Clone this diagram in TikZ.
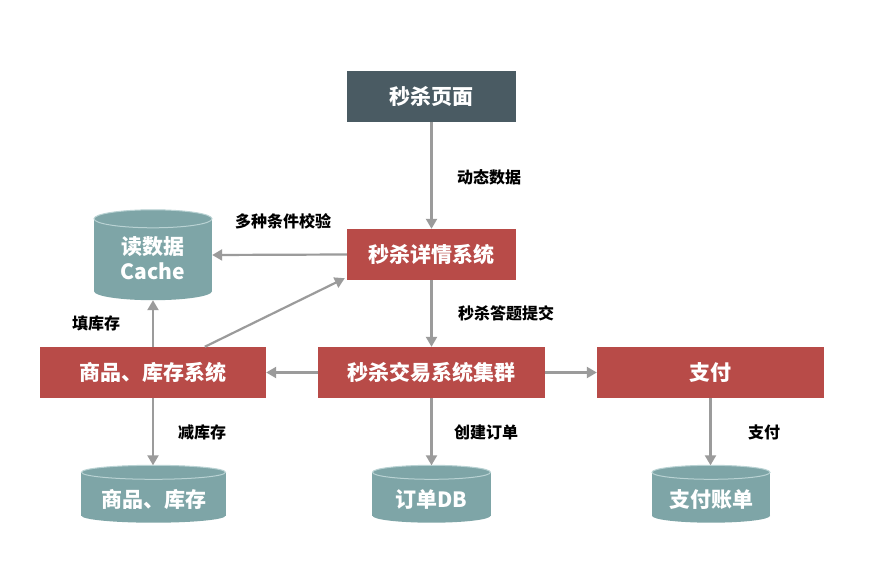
\documentclass[tikz,border=0pt]{standalone}
\usepackage{fontspec}
\newfontfamily\cjk{Noto Sans CJK SC}
\usetikzlibrary{arrows.meta,calc,backgrounds}
\definecolor{boxred}{HTML}{B84B48}
\definecolor{boxdark}{HTML}{4A5B63}
\definecolor{cylfill}{HTML}{7EA5A7}
\definecolor{cylrim}{HTML}{B9D2D3}
\definecolor{arrgray}{HTML}{9B9B9B}
\newcommand\cylshape[3]{%
  \fill[cylfill] ($(#1.north west)+(0,#3)$) rectangle ($(#1.south east)+(0,-#3)$);
  \fill[cylfill] ($(#1.south)+(0,-#3)$) ellipse [x radius=#2pt, y radius=#3pt];
  \fill[cylfill] ($(#1.north)+(0,#3)$) ellipse [x radius=#2pt, y radius=#3pt];
  \draw[cylrim, line width=1pt] ($(#1.north)+(0,#3)$) ellipse [x radius=#2pt, y radius=#3pt];
}
\begin{document}
\begin{tikzpicture}[x=1pt,y=-1pt,
  box/.style={fill=boxred, text=white, minimum height=51pt, inner sep=0pt,
    font=\cjk\bfseries\fontsize{21}{24}\selectfont},
  darkbox/.style={box, fill=boxdark},
  cyl/.style={text=white, inner sep=0pt, align=center,
    font=\cjk\bfseries\fontsize{21}{25}\selectfont},
  lbl/.style={text=black, inner sep=0pt, font=\cjk\bfseries\fontsize{16}{18}\selectfont},
  arr/.style={draw=arrgray, line width=2.2pt, -{Triangle[width=11pt,length=10pt]}}]
\useasboundingbox (0,0) rectangle (888,585);

% boxes
\node[darkbox, minimum width=169pt] (page) at (431.5,96.5) {秒杀页面};
\node[box, minimum width=169pt] (detail) at (431.5,254.5) {秒杀详情系统};
\node[box, minimum width=227pt] (trade) at (431.5,372.5) {秒杀交易系统集群};
\node[box, minimum width=226pt] (goods) at (153,372.5) {商品、库存系统};
\node[box, minimum width=227pt] (pay) at (710.5,372.5) {支付};

% cylinders
\node[cyl, minimum width=118pt, minimum height=90pt] (cache) at (153,255)
  {\raisebox{-24.5pt}[0pt][0pt]{\shortstack{读数据\\[3pt]Cache}}};
\node[cyl, minimum width=144pt, minimum height=57pt] (stock) at (153.5,494) {\raisebox{-13.5pt}[0pt][0pt]{商品、库存}};
\node[cyl, minimum width=118pt, minimum height=57pt] (orderdb) at (431.5,494) {\raisebox{-13.5pt}[0pt][0pt]{订单DB}};
\node[cyl, minimum width=118pt, minimum height=57pt] (bill) at (711,494) {\raisebox{-13.5pt}[0pt][0pt]{支付账单}};

\begin{scope}[on background layer]
  \fill[white] (0,0) rectangle (888,585);
  \cylshape{cache}{59}{9}
  \cylshape{stock}{72}{7}
  \cylshape{orderdb}{59}{7}
  \cylshape{bill}{59}{7}
\end{scope}

% connectors
\draw[arr] (page.south) -- (detail.north);
\draw[arr] (detail.west) -- (cache.east);
\draw[arr] ($(goods.north west)+(165,0)$) -- ($(detail.south west)+(-2,-2)$);
\draw[arr] (goods.north) -- (cache.south);
\draw[arr] (detail.south) -- (trade.north);
\draw[arr] (trade.west) -- (goods.east);
\draw[arr] (trade.east) -- (pay.west);
\draw[arr] (goods.south) -- (stock.north -| goods.south);
\draw[arr] (trade.south) -- (orderdb.north);
\draw[arr] (pay.south) -- (bill.north -| pay.south);

% labels
\node[lbl] (l1) at (489,177) {动态数据};
\node[lbl] (l2) at (283,221) {多种条件校验};
\node[lbl] (l3) at (96,323) {填库存};
\node[lbl] (l4) at (506,313) {秒杀答题提交};
\node[lbl] (l5) at (202,432) {减库存};
\node[lbl] (l6) at (486,432) {创建订单};
\node[lbl] (l7) at (764,432) {支付};
\end{tikzpicture}
\end{document}
